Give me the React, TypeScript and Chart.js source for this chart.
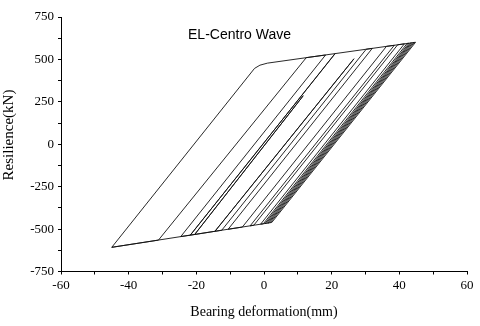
import React, { useEffect, useRef } from "react";
import { Chart, registerables } from "chart.js";

Chart.register(...registerables);

const chartTitle = "EL-Centro Wave";
const xAxisTitle = "Bearing deformation(mm)";
const yAxisTitle = "Resilience(kN)";

// Hysteresis path (turning points): envelope first, then inner branches
const deformation = [
  -45, -2.8, -1.2, 1, 44.8, 2.3, -45,
  -31.2, 12.5, 18.2, -24.6, -21.8, 21.0, -21.8, -20.5, 11.6, -20.5,
  -14.5, 26.6, -14.5, -12.5, 30.2, 32, -10.6, -6.4, 36.2, 38.5, -4.1, -3, 39.5,
  41.5, -1.0, -0.2, 42.3, 42.8, 0.3, 0.7, 43.2, 43.6, 1.1, 1.5, 44.0, 44.4, 1.9,
];
const resilience = [
  -607.5, 447, 466, 478, 601, -461, -607.5,
  -565, 510.5, 526, -544, -536, 534, -536, -532, 286, -532,
  -513, 504, -513, -507, 560, 565, -501, -488, 577, 583, -481, -477, 586,
  592, -471, -469, 594, 595, -467, -466, 596, 598, -465, -463, 599, 600, -462,
];

const xTickLabels = [-60, -40, -20, 0, 20, 40, 60];
const yTickLabels = [-750, -500, -250, 0, 250, 500, 750];

const SERIF = "'Liberation Serif', 'Times New Roman', serif";
const SANS = "'Liberation Sans', Arial, sans-serif";

export default function App() {
  const ref = useRef<HTMLCanvasElement | null>(null);

  useEffect(() => {
    document.body.style.margin = "0";
    const canvas = ref.current;
    if (!canvas) return;

    const points = deformation.map((x, i) => ({ x, y: resilience[i] }));

    const textPlugin = {
      id: "extraTexts",
      afterDraw(chart: any) {
        const ctx = chart.ctx;
        ctx.save();
        ctx.fillStyle = "#000";
        ctx.textAlign = "center";
        ctx.textBaseline = "middle";
        ctx.font = `14px ${SANS}`;
        ctx.fillText(chartTitle, 239.5, 35);
        ctx.translate(9, 135);
        ctx.rotate(-Math.PI / 2);
        ctx.font = `15px ${SERIF}`;
        ctx.fillText(yAxisTitle, 0, 0);
        ctx.restore();
      },
    };

    const chart = new Chart(canvas, {
      type: "scatter",
      data: {
        datasets: [
          {
            data: points,
            showLine: true,
            borderColor: "#111",
            borderWidth: 0.9,
            pointRadius: 0,
            tension: 0,
            fill: false,
          },
        ],
      },
      options: {
        animation: false,
        responsive: false,
        maintainAspectRatio: false,
        layout: { padding: { top: 17, right: 13, left: 0, bottom: 0 } },
        plugins: {
          legend: { display: false },
          tooltip: { enabled: false },
          title: { display: false },
        },
        scales: {
          x: {
            type: "linear",
            min: -60,
            max: 60,
            afterFit: (s: any) => {
              s.height = 54.5;
            },
            ticks: {
              stepSize: 10,
              autoSkip: false,
              maxRotation: 0,
              padding: 3,
              color: "#000",
              font: { family: SERIF, size: 13 },
              callback: (v: any) => (xTickLabels.includes(Number(v)) ? String(v) : ""),
            },
            grid: {
              drawOnChartArea: false,
              drawTicks: true,
              tickLength: 3,
              tickColor: "#000",
              color: "#000",
            },
            border: { display: true, color: "#000", width: 1 },
            title: {
              display: true,
              text: xAxisTitle,
              color: "#000",
              font: { family: SERIF, size: 14 },
              padding: { top: 0, bottom: 5 },
            },
          },
          y: {
            type: "linear",
            min: -750,
            max: 750,
            afterFit: (s: any) => {
              s.width = 61;
            },
            ticks: {
              stepSize: 125,
              autoSkip: false,
              padding: 4,
              color: "#000",
              font: { family: SERIF, size: 13 },
              callback: (v: any) => (yTickLabels.includes(Number(v)) ? String(v) : ""),
            },
            grid: {
              drawOnChartArea: false,
              drawTicks: true,
              tickLength: 3,
              tickColor: "#000",
              color: "#000",
            },
            border: { display: true, color: "#000", width: 1 },
          },
        },
      },
      plugins: [textPlugin],
    });

    return () => {
      chart.destroy();
    };
  }, []);

  return (
    <canvas
      ref={ref}
      width={480}
      height={326}
      style={{ display: "block", width: 480, height: 326 }}
    />
  );
}
